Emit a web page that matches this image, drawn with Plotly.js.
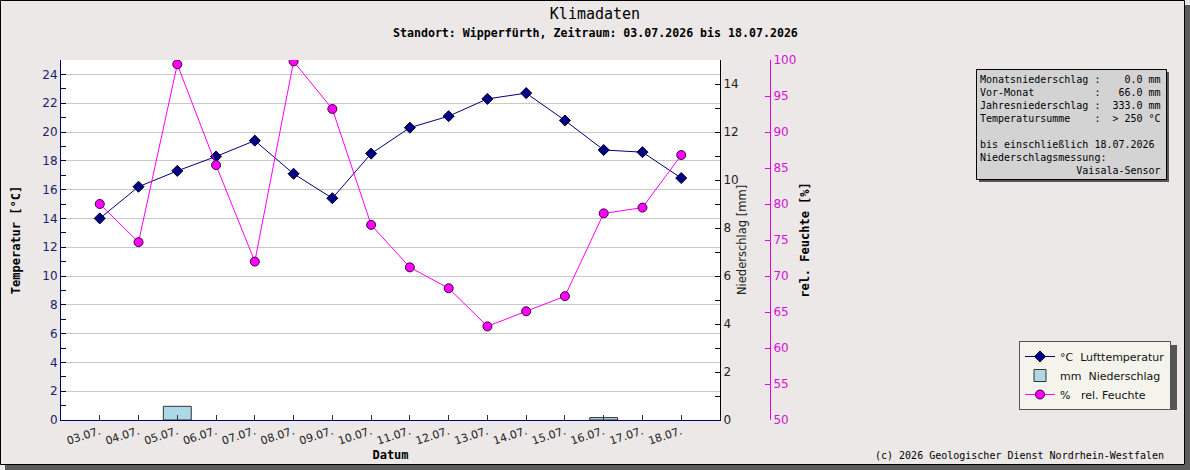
<!DOCTYPE html>
<html>
<head>
<meta charset="utf-8">
<script src="https://cdn.plot.ly/plotly-3.0.1.min.js"></script>
<style>
html,body{margin:0;padding:0;background:#ffffff;}
#chart{width:1190px;height:470px;}
</style>
</head>
<body>
<div id="chart"></div>
<script>
// ---- data ----
const dates = ['03.07.','04.07.','05.07.','06.07.','07.07.','08.07.','09.07.','10.07.',
               '11.07.','12.07.','13.07.','14.07.','15.07.','16.07.','17.07.','18.07.'];
const temperature = [14.0,16.2,17.3,18.3,19.4,17.1,15.4,18.5,20.3,21.1,22.3,22.7,20.8,18.75,18.6,16.8];
const precipitation = [0,0,0.57,0,0,0,0,0,0,0,0,0,0,0.1,0,0];
const humidity = [80.0,74.7,99.4,85.4,72.0,99.8,93.2,77.1,71.2,68.3,63.0,65.1,67.2,78.7,79.5,86.8];

const legendNames = ['°C\u00a0\u00a0Lufttemperatur','mm\u00a0\u00a0Niederschlag','%\u00a0\u00a0\u00a0rel. Feuchte'];
const titleText = 'Klimadaten';
const subtitleText = 'Standort: Wipperfürth, Zeitraum: 03.07.2026 bis 18.07.2026';
const infoLines = [
  'Monatsniederschlag :    0.0 mm',
  'Vor-Monat          :   66.0 mm',
  'Jahresniederschlag :  333.0 mm',
  'Temperatursumme    :  > 250 °C',
  '',
  'bis einschließlich 18.07.2026',
  'Niederschlagsmessung:',
  '                Vaisala-Sensor'
];
const copyrightText = '(c) 2026 Geologischer Dienst Nordrhein-Westfalen';

// ---- geometry helpers (page pixels -> paper coords) ----
const W = 1190, H = 470;
const L = 61, PR = 720, AR = 770, T = 60, B = 420;
const px2x = p => (p - L) / (AR - L);
const px2y = p => (B - p) / (B - T);

const mono = 'DejaVu Sans Mono, monospace';
const sans = 'DejaVu Sans, sans-serif';
const nb = s => s.replace(/ /g, '\u00a0');

const traces = [
  {
    type: 'scatter', mode: 'lines+markers', name: legendNames[0],
    x: dates, y: temperature, yaxis: 'y',
    line: {color: '#00007a', width: 1},
    marker: {symbol: 'diamond', size: 8.5, color: '#000080', line: {color: '#000030', width: 1}}
  },
  {
    type: 'bar', name: legendNames[1],
    x: dates, y: precipitation.map(v => v === 0 ? null : v), yaxis: 'y2', width: 0.72,
    marker: {color: '#add8e6', line: {color: '#333333', width: 1}}
  },
  {
    type: 'scatter', mode: 'lines+markers', name: legendNames[2],
    x: dates, y: humidity, yaxis: 'y3',
    line: {color: '#ff00ff', width: 1},
    marker: {symbol: 'circle', size: 9, color: '#ff00ff', line: {color: '#3a003a', width: 1}}
  }
];

const boldMono = {family: mono, size: 12, weight: 'bold', color: '#000'};

const layout = {
  width: W, height: H,
  margin: {l: L, r: W - AR, t: T, b: H - B, pad: 0},
  paper_bgcolor: '#ebe8e7',
  plot_bgcolor: '#ffffff',
  showlegend: true,
  bargap: 0,
  title: {text: titleText, font: {family: mono, size: 15, color: '#000'},
          x: 595 / W, xanchor: 'center', xref: 'container', y: 1 - 14 / H, yanchor: 'middle', yref: 'container'},
  xaxis: {
    domain: [0, (PR - L) / (AR - L)], type: 'category', range: [-1, 16],
    showline: true, linecolor: '#000060', linewidth: 1,
    ticks: 'inside', ticklen: 5, tickcolor: '#333',
    tickangle: -18, tickfont: {family: sans, size: 11, color: '#222'},
    showgrid: false, zeroline: false, fixedrange: true,
    title: {text: 'Datum', font: boldMono, standoff: 3}
  },
  yaxis: {
    range: [0, 25], tick0: 0, dtick: 2,
    ticks: 'inside', ticklen: 5, tickcolor: '#000060',
    showline: true, linecolor: '#000060', linewidth: 1,
    showgrid: true, gridcolor: '#c8c8c8', gridwidth: 1, zeroline: false,
    tickfont: {family: sans, size: 12, color: '#1c1c6c'},
    minor: {tick0: 0, dtick: 1, ticks: 'inside', ticklen: 5, tickcolor: '#000060', showgrid: false},
    title: {text: 'Temperatur [°C]', font: boldMono, standoff: 19},
    fixedrange: true
  },
  yaxis2: {
    overlaying: 'y', side: 'right', anchor: 'x',
    range: [0, 15], tick0: 0, dtick: 2,
    ticks: 'inside', ticklen: 5, tickcolor: '#000',
    showline: true, linecolor: '#000', linewidth: 1,
    showgrid: false, zeroline: false,
    tickfont: {family: sans, size: 12, color: '#222'},
    minor: {tick0: 0, dtick: 1, ticks: 'inside', ticklen: 5, tickcolor: '#000', showgrid: false},
    fixedrange: true
  },
  yaxis3: {
    overlaying: 'y', side: 'right', anchor: 'free', position: 1,
    range: [50, 100], tick0: 50, dtick: 5,
    ticks: 'inside', ticklen: 5, tickcolor: '#e000e0',
    showline: true, linecolor: '#e000e0', linewidth: 1,
    showgrid: false, zeroline: false,
    tickfont: {family: sans, size: 12, color: '#d414d4'},
    title: {text: 'rel. Feuchte [%]', font: boldMono, standoff: 5},
    fixedrange: true
  },
  legend: {
    x: px2x(1019), y: px2y(341), xanchor: 'left', yanchor: 'top',
    bgcolor: '#f4f4ec', bordercolor: '#555', borderwidth: 1,
    font: {family: sans, size: 11, color: '#111'},
    itemwidth: 30, tracegroupgap: 0, traceorder: 'normal'
  },
  shapes: [
    // outer frame shadow
    {type: 'rect', xref: 'paper', yref: 'paper', x0: px2x(1185), x1: px2x(1190), y0: px2y(5), y1: px2y(470),
     fillcolor: '#5c5c5c', line: {width: 0}, layer: 'below'},
    {type: 'rect', xref: 'paper', yref: 'paper', x0: px2x(5), x1: px2x(1190), y0: px2y(465), y1: px2y(470),
     fillcolor: '#5c5c5c', line: {width: 0}, layer: 'below'},
    {type: 'rect', xref: 'paper', yref: 'paper', x0: px2x(0.5), x1: px2x(1184.5), y0: px2y(0.5), y1: px2y(464.5),
     fillcolor: 'rgba(0,0,0,0)', line: {color: '#000', width: 1}, layer: 'below'},
    // info box shadow + box
    {type: 'rect', xref: 'paper', yref: 'paper', x0: px2x(979), x1: px2x(1169), y0: px2y(72), y1: px2y(182),
     fillcolor: '#555', line: {width: 0}},
    {type: 'rect', xref: 'paper', yref: 'paper', x0: px2x(976.5), x1: px2x(1166.5), y0: px2y(69.5), y1: px2y(179.5),
     fillcolor: '#d3d3d3', line: {color: '#000', width: 1}},
    // legend shadow
    {type: 'rect', xref: 'paper', yref: 'paper', x0: px2x(1023), x1: px2x(1177), y0: px2y(345), y1: px2y(410),
     fillcolor: '#555', line: {width: 0}}
  ],
  annotations: [
    {text: '<b>' + subtitleText + '</b>', xref: 'paper', yref: 'paper', x: px2x(595), y: px2y(33),
     xanchor: 'center', yanchor: 'middle', showarrow: false, font: {family: mono, size: 11.6, color: '#000'}},
    {text: 'Niederschlag [mm]', xref: 'paper', yref: 'paper', x: px2x(742), y: px2y(240), textangle: -90,
     xanchor: 'center', yanchor: 'middle', showarrow: false, font: {family: sans, size: 11.5, color: '#222'}},
    {text: infoLines.map(s => s === '' ? '\u00a0' : nb(s)).join('<br>'), xref: 'paper', yref: 'paper',
     x: px2x(978), y: px2y(72), xanchor: 'left', yanchor: 'top', align: 'left', showarrow: false,
     font: {family: mono, size: 10, color: '#000'}},
    {text: copyrightText, xref: 'paper', yref: 'paper', x: px2x(1166), y: px2y(455),
     xanchor: 'right', yanchor: 'middle', showarrow: false, font: {family: mono, size: 10, color: '#000'}}
  ]
};

Plotly.newPlot('chart', traces, layout, {staticPlot: true, displayModeBar: false});
</script>
</body>
</html>
